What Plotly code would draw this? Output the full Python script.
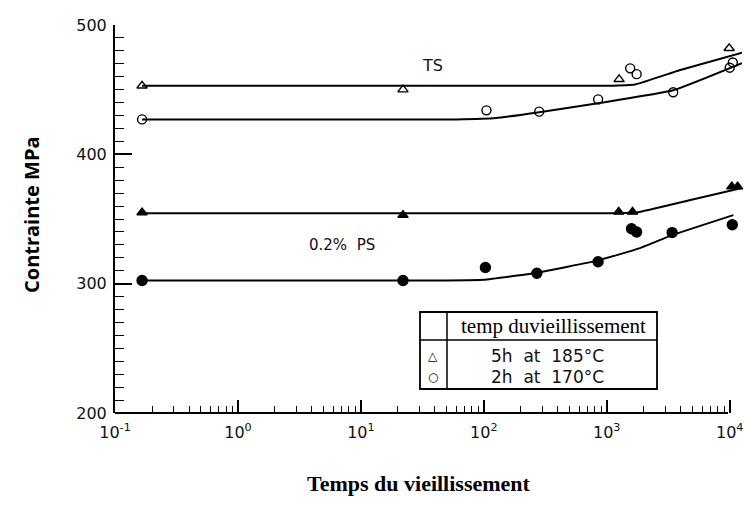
import plotly.graph_objects as go

# Aging time (h) and stress (MPa)
ts_185_x = [0.166, 22, 1260, 9900]
ts_185_y = [453, 450, 458, 482]
ts_170_x = [0.166, 105, 282, 850, 1550, 1750, 3470, 10000, 10600]
ts_170_y = [427, 434, 433, 442.5, 466.5, 462, 448, 467, 471]
ps_185_x = [0.166, 22, 1250, 1620, 10400, 11600]
ps_185_y = [355, 353, 355.5, 355.5, 375, 375]
ps_170_x = [0.166, 22, 103, 270, 850, 1590, 1750, 3400, 10500]
ps_170_y = [302.5, 302.5, 312.5, 308, 317, 342.5, 340, 339.5, 345.5]

# Trend curves drawn through each data set
ts_185_fit_x = [0.166, 1000, 1700, 3900, 12600]
ts_185_fit_y = [453, 453, 454, 465, 478.5]
ts_170_fit_x = [0.166, 60, 126, 282, 850, 3470, 12600]
ts_170_fit_y = [427, 427, 428, 432.6, 439.5, 449.5, 470.5]
ps_185_fit_x = [0.166, 1000, 1740, 4700, 12600]
ps_185_fit_y = [354.5, 354.5, 355, 364.5, 374]
ps_170_fit_x = [0.166, 50, 100, 270, 850, 1860, 3400, 10700]
ps_170_fit_y = [302.5, 302.5, 303, 308.5, 318, 327.5, 337.5, 353]

x_major = [0.1, 1, 10, 100, 1000, 10000]
x_major_text = ["10<sup>-1</sup>", "10<sup>0</sup>", "10<sup>1</sup>",
                "10<sup>2</sup>", "10<sup>3</sup>", "10<sup>4</sup>"]
x_minor = [m * 10 ** e for e in range(-1, 4) for m in range(2, 10)]
y_major = [200, 300, 400, 500]

legend_header = "temp duvieillissement"
legend_rows = [("\u25b3", "5h  at  185\u00b0C"), ("\u25cb", "2h  at  170\u00b0C")]

# Plot-area geometry in pixels
W, H = 744, 505
L, R, T, B = 115, 742, 25, 413


def px(xp):
    return (xp - L) / (R - L)


def py(yp):
    return (B - yp) / (B - T)


fig = go.Figure()

for fx, fy in [(ts_185_fit_x, ts_185_fit_y), (ts_170_fit_x, ts_170_fit_y),
               (ps_185_fit_x, ps_185_fit_y), (ps_170_fit_x, ps_170_fit_y)]:
    fig.add_trace(go.Scatter(x=fx, y=fy, mode="lines",
                             line=dict(color="black", width=2, shape="spline", smoothing=0.35),
                             hoverinfo="skip", showlegend=False))

marker_sets = [
    (ts_185_x, ts_185_y, "triangle-up-open", 9),
    (ts_170_x, ts_170_y, "circle-open", 9),
    (ps_185_x, ps_185_y, "triangle-up", 9),
    (ps_170_x, ps_170_y, "circle", 10),
]
for mx, my, sym, sz in marker_sets:
    fig.add_trace(go.Scatter(x=mx, y=my, mode="markers", cliponaxis=False,
                             marker=dict(symbol=sym, size=sz, color="black",
                                         line=dict(color="black", width=1.4)),
                             showlegend=False))

tick_font = dict(family="DejaVu Sans", size=16, color="#111")

fig.update_xaxes(type="log", range=[-1, 4.1], showline=False, showgrid=False, zeroline=False,
                 tickmode="array", tickvals=x_major, ticktext=x_major_text,
                 ticks="inside", ticklen=13, tickwidth=1.5, tickcolor="black",
                 ticklabelstandoff=8, tickfont=tick_font,
                 minor=dict(tickmode="array", tickvals=x_minor, ticks="inside",
                            ticklen=7, tickwidth=1.3, tickcolor="black", showgrid=False))
fig.update_yaxes(range=[200, 500], showline=True, linewidth=2, linecolor="black",
                 showgrid=False, zeroline=False,
                 tickmode="array", tickvals=y_major,
                 ticks="inside", ticklen=17, tickwidth=1.5, tickcolor="black",
                 ticklabelstandoff=3, tickfont=tick_font,
                 minor=dict(dtick=10, ticks="inside", ticklen=9, tickwidth=1.3,
                            tickcolor="black", showgrid=False))

shapes = [
    # bottom axis line, ending at 10^4
    dict(type="line", xref="paper", yref="paper", x0=0, x1=px(728), y0=0, y1=0,
         line=dict(color="black", width=2)),
    # legend table
    dict(type="rect", xref="paper", yref="paper", x0=px(420), x1=px(657),
         y0=py(389), y1=py(312), line=dict(color="black", width=1.8)),
    dict(type="line", xref="paper", yref="paper", x0=px(420), x1=px(657),
         y0=py(340), y1=py(340), line=dict(color="black", width=1.5)),
    dict(type="line", xref="paper", yref="paper", x0=px(447), x1=px(447),
         y0=py(389), y1=py(312), line=dict(color="black", width=1.5)),
]


def label(text, xp, yp, font, angle=0):
    return dict(text=text, x=px(xp), y=py(yp), xref="paper", yref="paper",
                xanchor="center", yanchor="middle", showarrow=False,
                textangle=angle, font=font)


annotations = [
    label("TS", 432, 66, dict(family="DejaVu Sans", size=16, color="#111")),
    label("0.2%  PS", 342, 245, dict(family="DejaVu Sans", size=15, color="#111")),
    label(legend_header, 553, 326, dict(family="Liberation Serif", size=21, color="black")),
    label("<b>Contrainte MPa</b>", 31, 215, dict(family="Open Sans", size=20, color="black"), -90),
    label("<b>Temps du vieillissement</b>", 419, 483,
          dict(family="Liberation Serif", size=22, color="black")),
]
for i, (sym, text) in enumerate(legend_rows):
    yy = 356 + 21 * i
    annotations.append(label(sym, 433, yy, dict(family="DejaVu Sans", size=12, color="black")))
    annotations.append(label(text, 547, yy, dict(family="DejaVu Sans", size=17, color="#111")))

fig.update_layout(width=W, height=H, margin=dict(l=L, r=W - R, t=T, b=H - B),
                  paper_bgcolor="white", plot_bgcolor="white",
                  shapes=shapes, annotations=annotations, showlegend=False)

fig.write_html("out.html")
